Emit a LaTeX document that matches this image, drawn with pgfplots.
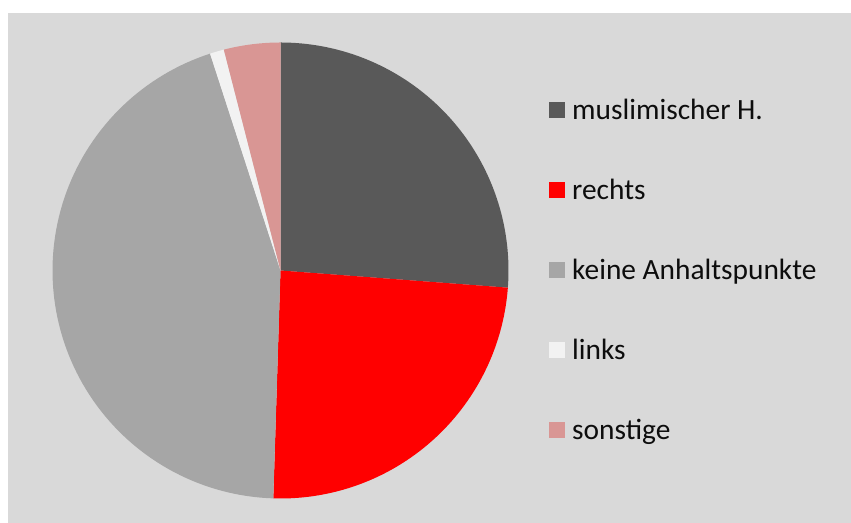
\documentclass[border=0pt]{standalone}
\usepackage{fontspec}
\setmainfont{Carlito}
\usepackage{pgfplots}
\usepackage{pgfplotstable}
\pgfplotsset{compat=1.18}
\definecolor{c0}{HTML}{595959}
\definecolor{c1}{HTML}{FF0000}
\definecolor{c2}{HTML}{A6A6A6}
\definecolor{c3}{HTML}{F2F2F2}
\definecolor{c4}{HTML}{D99694}
\definecolor{bg}{HTML}{D9D9D9}
\pgfplotstableread{
value
26.2
24.3
44.5
1.0
4.0
}\piedata
\begin{document}
\begin{tikzpicture}[x=1bp,y=1bp]
\fill[white] (0,0) rectangle (851,523);
\fill[bg] (8,0) rectangle (851,510);
\begin{axis}[at={(280.5bp,252.5bp)}, anchor=center, scale only axis,
  width=456bp, height=456bp, xmin=-1, xmax=1, ymin=-1, ymax=1,
  hide axis, clip=false,
  legend style={draw=none, fill=none, at={(1.0888,0.8697)}, anchor=north west,
    inner sep=0pt, row sep=58bp, column sep=7bp,
    font=\fontsize{29.5}{34}\selectfont, text=black!95,
    nodes={inner sep=0pt, text height=17bp, text depth=5bp}},
  legend cell align=left,
  legend image code/.code={\fill[#1] (0bp,-5bp) rectangle (16bp,11bp);},
  legend entries={muslimischer H., rechts, keine Anhaltspunkte, links, sonstige},
]
\def\cum{0}
\pgfplotsforeachungrouped \i in {0,...,4}{%
  \pgfplotstablegetelem{\i}{value}\of\piedata
  \let\v\pgfplotsretval
  \pgfmathsetmacro\a{90-3.6*\cum}%
  \pgfmathsetmacro\b{90-3.6*(\cum+\v)}%
  \pgfmathsetmacro\cum{\cum+\v}%
  \edef\tmp{\noexpand\addplot[fill=c\i, draw=none, domain=\b:\a, samples=100] ({cos(x)},{sin(x)}) -- (axis cs:0,0) -- cycle;}%
  \tmp
}
\end{axis}
\end{tikzpicture}
\end{document}
